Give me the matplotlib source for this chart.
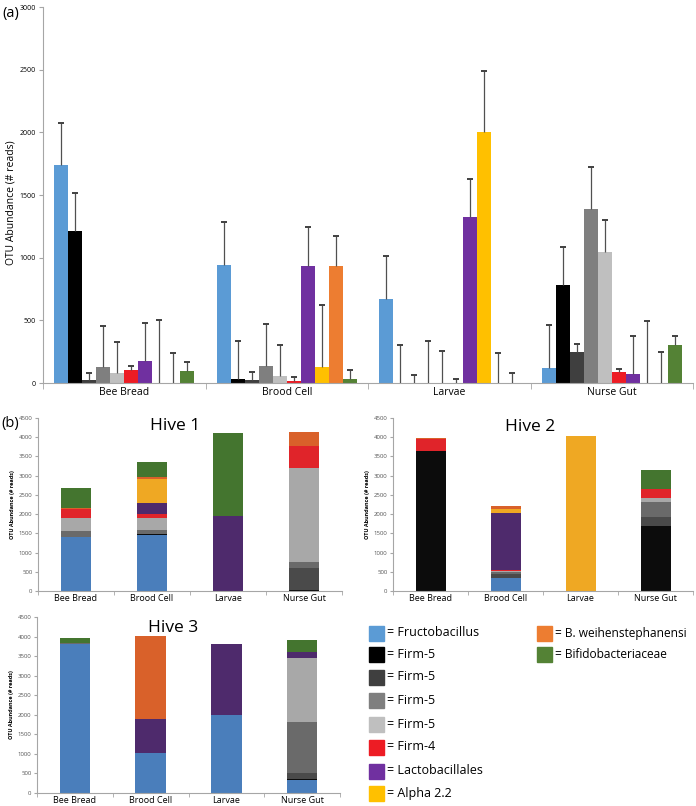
import matplotlib
matplotlib.use("Agg")
import matplotlib.pyplot as plt
from matplotlib.patches import Rectangle
import numpy as np

plt.rcParams['font.family'] = ['Open Sans', 'DejaVu Sans']

# ---------------- data ----------------
categories = ["Bee Bread", "Brood Cell", "Larvae", "Nurse Gut"]
taxa = ["Fructobacillus", "Firm-5", "Firm-5", "Firm-5", "Firm-5", "Firm-4",
        "Lactobacillales", "Alpha 2.2", "B. weihenstephanensi", "Bifidobacteriaceae"]

# panel (a): mean abundance per taxon across categories
fructo_mean = [1740, 940, 670, 120]
firm5a_mean = [1215, 34, 0, 782]
firm5b_mean = [25, 24, 0, 245]
firm5c_mean = [128, 135, 0, 1392]
firm5d_mean = [78, 53, 0, 1048]
firm4_mean = [105, 15, 0, 88]
lacto_mean = [172, 936, 1325, 68]
alpha_mean = [0, 130, 2000, 0]
bweih_mean = [0, 936, 0, 0]
bifido_mean = [98, 30, 0, 306]

# panel (a): upper error
fructo_err = [337, 342, 343, 340]
firm5a_err = [304, 299, 303, 301]
firm5b_err = [58, 64, 64, 64]
firm5c_err = [329, 333, 335, 329]
firm5d_err = [252, 253, 258, 250]
firm4_err = [28, 30, 32, 24]
lacto_err = [309, 307, 305, 309]
alpha_err = [500, 492, 490, 497]
bweih_err = [242, 237, 242, 247]
bifido_err = [70, 71, 77, 67]

# panel (b): stacked abundances per hive (rows follow `taxa`)
hive1 = [
    [1400, 1460, 0, 0],
    [0, 25, 0, 35],
    [0, 0, 0, 570],
    [170, 105, 0, 145],
    [330, 320, 0, 2460],
    [220, 95, 0, 550],
    [0, 275, 1950, 0],
    [0, 630, 0, 0],
    [50, 45, 0, 385],
    [500, 405, 2160, 0],
]
hive2 = [
    [0, 350, 0, 0],
    [3650, 0, 0, 1700],
    [0, 90, 0, 215],
    [0, 45, 0, 400],
    [0, 35, 0, 105],
    [300, 20, 0, 235],
    [0, 1480, 0, 0],
    [0, 120, 4040, 0],
    [20, 60, 0, 0],
    [0, 0, 0, 490],
]
hive3 = [
    [3820, 1010, 2000, 345],
    [0, 0, 0, 25],
    [0, 0, 0, 130],
    [20, 0, 0, 1310],
    [0, 0, 0, 1630],
    [0, 0, 0, 0],
    [0, 890, 1815, 165],
    [0, 0, 0, 0],
    [0, 2110, 0, 0],
    [125, 0, 0, 300],
]
hive_titles = ["Hive 1", "Hive 2", "Hive 3"]

means = [fructo_mean, firm5a_mean, firm5b_mean, firm5c_mean, firm5d_mean,
         firm4_mean, lacto_mean, alpha_mean, bweih_mean, bifido_mean]
errs = [fructo_err, firm5a_err, firm5b_err, firm5c_err, firm5d_err,
        firm4_err, lacto_err, alpha_err, bweih_err, bifido_err]

colors_a = ['#5b9bd5', '#000000', '#3f3f3f', '#7f7f7f', '#bfbfbf',
            '#ed1c24', '#7030a0', '#ffc000', '#ed7d31', '#548235']
colors_b = ['#4a7ebb', '#0c0c0c', '#4a4a4a', '#6a6a6a', '#a8a8a8',
            '#e0242a', '#4e2a6c', '#efa823', '#d9612a', '#44752f']

W, H = 696, 806
fig = plt.figure(figsize=(W / 100, H / 100), dpi=100)


def rect(l, t, r, b):
    return [l / W, 1 - b / H, (r - l) / W, (b - t) / H]


spine_c = '#a6a6a6'

# ---------------- panel (a) ----------------
axA = fig.add_axes(rect(43, 7, 693, 383))
x = np.arange(len(categories))
bw = 0.086
for j in range(len(taxa)):
    pos = x + (j - 4.5) * bw
    m = np.array(means[j], dtype=float)
    e = np.array(errs[j], dtype=float)
    axA.bar(pos, m, width=bw, color=colors_a[j], edgecolor='none', zorder=2)
    axA.vlines(pos, m, m + e, color='#505050', linewidth=0.9, zorder=3)
    axA.plot(pos, m + e, linestyle='none', marker='_', markersize=4.2,
             markeredgewidth=1.4, color='#404040', zorder=3)
axA.set_xlim(-0.5, 3.5)
axA.set_ylim(0, 3000)
axA.set_yticks(np.arange(0, 3001, 500))
axA.tick_params(axis='y', labelsize=5, length=3, color=spine_c, pad=2)
axA.set_xticks(x)
axA.set_xticklabels(categories, fontsize=7.5)
axA.tick_params(axis='x', length=0, pad=3)
axA.set_xticks(np.arange(-0.5, 3.6, 1), minor=True)
axA.tick_params(axis='x', which='minor', length=4, color=spine_c)
for s in ['top', 'right']:
    axA.spines[s].set_visible(False)
for s in ['left', 'bottom']:
    axA.spines[s].set_color(spine_c)
    axA.spines[s].set_linewidth(0.8)
fig.text(11 / W, 1 - 203 / H, "OTU Abundance (# reads)", fontsize=7.5,
         rotation=90, ha='center', va='center')
fig.text(2 / W, 1 - 14 / H, "(a)", fontsize=10.5, va='center', ha='left')

# ---------------- panel (b) ----------------
hive_rects = [rect(38, 418, 342, 591), rect(393, 418, 693, 591), rect(37, 617, 340, 793)]
hive_data = [hive1, hive2, hive3]
title_pos = [(0.45, 0.955), (0.457, 0.95), (0.45, 0.94)]
for k in range(3):
    ax = fig.add_axes(hive_rects[k])
    data = np.array(hive_data[k], dtype=float)
    bottom = np.zeros(4)
    for j in range(len(taxa)):
        ax.bar(x, data[j], width=0.4, bottom=bottom, color=colors_b[j],
               edgecolor='none', zorder=2)
        bottom += data[j]
    ax.set_xlim(-0.5, 3.5)
    ax.set_ylim(0, 4500)
    ax.set_yticks(np.arange(0, 4501, 500))
    ax.tick_params(axis='y', labelsize=4.3, length=2.5, color=spine_c,
                   labelcolor='#555555', pad=1.5)
    ax.set_xticks(x)
    ax.set_xticklabels(categories, fontsize=6.5)
    ax.tick_params(axis='x', length=0, pad=2)
    ax.set_xticks(np.arange(-0.5, 3.6, 1), minor=True)
    ax.tick_params(axis='x', which='minor', length=3, color=spine_c)
    for s in ['top', 'right']:
        ax.spines[s].set_visible(False)
    for s in ['left', 'bottom']:
        ax.spines[s].set_color(spine_c)
        ax.spines[s].set_linewidth(0.8)
    ax.set_ylabel("OTU Abundance (# reads)", fontsize=4, fontweight='bold', labelpad=3)
    ax.text(title_pos[k][0], title_pos[k][1], hive_titles[k], transform=ax.transAxes,
            fontsize=12.5, ha='center', va='center')

fig.text(1 / W, 1 - 424 / H, "(b)", fontsize=10.5, va='center', ha='left')

# ---------------- legend ----------------
row_y = [633, 654, 677, 700, 724, 747, 771, 793]
col1 = list(range(8))
col2 = [8, 9]
sq = 15
for idx, j in enumerate(col1):
    yc = row_y[idx]
    fig.add_artist(Rectangle((369 / W, 1 - (yc + sq / 2) / H), sq / W, sq / H,
                             transform=fig.transFigure, color=colors_a[j]))
    fig.text(387 / W, 1 - yc / H, "= " + taxa[j], fontsize=9, va='center', ha='left')
for idx, j in enumerate(col2):
    yc = row_y[idx]
    fig.add_artist(Rectangle((537 / W, 1 - (yc + sq / 2) / H), sq / W, sq / H,
                             transform=fig.transFigure, color=colors_a[j]))
    fig.text(555 / W, 1 - yc / H, "= " + taxa[j], fontsize=8.6, va='center', ha='left')

fig.savefig("out.png", dpi=100)
